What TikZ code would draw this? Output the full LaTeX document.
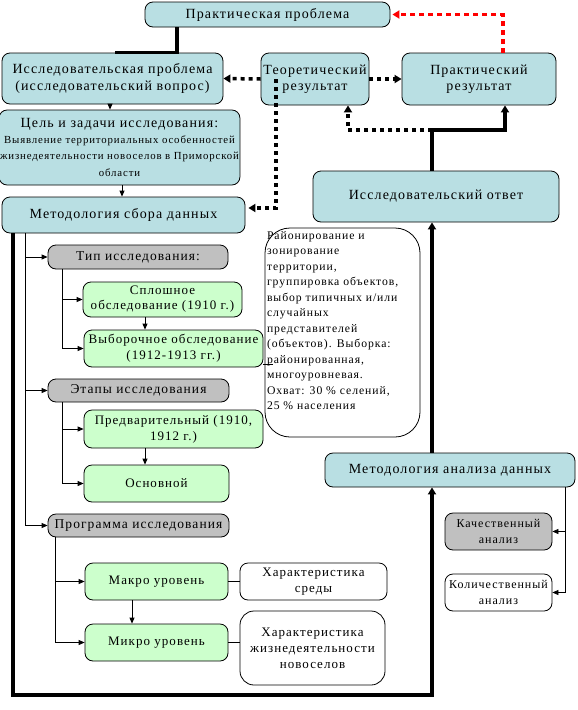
\documentclass[tikz,border=0pt]{standalone}
\usepackage{fontspec}
\setmainfont{Liberation Serif}[LetterSpace=8]
\usetikzlibrary{arrows.meta,calc}
\definecolor{bl}{HTML}{B9DFE3}
\definecolor{gr}{HTML}{CCFFCC}
\definecolor{gy}{HTML}{C0C0C0}
\definecolor{rd}{HTML}{FF0000}
\begin{document}
\begin{tikzpicture}[x=1pt,y=-1pt,
  box/.style={draw, rounded corners=8pt, inner sep=1pt, align=center, line width=0.8pt},
  bluebox/.style={box, fill=bl, font=\fontsize{14}{16.5}\selectfont},
  greenbox/.style={box, fill=gr, font=\fontsize{13}{16}\selectfont},
  greybox/.style={box, fill=gy, font=\fontsize{13.5}{16}\selectfont},
  whitebox/.style={box, fill=white, font=\fontsize{13}{16}\selectfont},
  smallbox/.style={box, font=\fontsize{12}{15.5}\selectfont},
  tip/.style={-{Triangle[length=6pt,width=5pt]}},
  thinline/.style={line width=0.8pt},
  tarr/.style={thinline, tip},
  thk/.style={line width=3.5pt},
  dotline/.style={line width=3.5pt, dash pattern=on 4pt off 4pt},
  reddash/.style={line width=3.5pt, dash pattern=on 5pt off 4pt, draw=rd},
  bigtip/.style={-{Triangle[length=7pt,width=8pt]}}
]
\useasboundingbox (0,0) rectangle (578,710);

% nodes
\node[bluebox, minimum width=245pt, minimum height=25pt] (pp) at (267.5,14.5) {Практическая проблема};
\node[bluebox, minimum width=221pt, minimum height=51pt] (ip) at (112.5,78.5) {Исследовательская проблема\\(исследовательский вопрос)};
\node[bluebox, minimum width=108pt, minimum height=52pt] (tr) at (315,79) {Теоретический\\результат};
\node[bluebox, minimum width=154pt, minimum height=52pt] (pr) at (479,79) {Практический\\результат};
\node[bluebox, minimum width=235pt, minimum height=75pt] (cel) at (119.5,147.5) {Цель и задачи исследования:\\[-1pt]{\fontsize{10.8}{14.5}\selectfont Выявление территориальных особенностей}\\{\fontsize{10.8}{14.5}\selectfont жизнедеятельности новоселов в Приморской}\\{\fontsize{10.8}{14.5}\selectfont области}};
\node[bluebox, minimum width=243pt, minimum height=36pt] (msd) at (123.5,215) {Методология сбора данных};
\node[bluebox, minimum width=246pt, minimum height=51pt] (io) at (436,196.5) {Исследовательский ответ};
\node[draw, fill=white, rounded corners=25pt, line width=0.8pt, inner sep=0pt, minimum width=155pt, minimum height=209pt] (txt) at (342.5,332.5)
  {\begin{minipage}[t][203pt][t]{151pt}\raggedright\fontsize{11.7}{15.5}\selectfont
   Районирование и\\зонирование\\территории,\\группировка объектов,\\выбор типичных и/или\\случайных\\представителей\\(объектов). Выборка:\\районированная,\\многоуровневая.\\Охват: 30 \% селений,\\25 \% населения\end{minipage}};

\node[greybox, minimum width=180pt, minimum height=24pt] (tp) at (138,257) {Тип исследования:};
\node[greenbox, minimum width=159pt, minimum height=35pt, font=\fontsize{13}{15}\selectfont] (spl) at (162.5,299.5) {Сплошное\\обследование (1910 г.)};
\node[greenbox, minimum width=179pt, minimum height=37pt] (vyb) at (173.5,348.5) {Выборочное обследование\\(1912-1913 гг.)};
\node[greybox, minimum width=181pt, minimum height=23pt] (eta) at (138.5,390.5) {Этапы исследования};
\node[greenbox, minimum width=179pt, minimum height=38pt] (pre) at (173.5,429) {Предварительный (1910,\\1912 г.)};
\node[greenbox, minimum width=145pt, minimum height=37pt] (osn) at (156.5,483.5) {Основной};
\node[greybox, minimum width=181pt, minimum height=23pt] (prg) at (138.5,525.5) {Программа исследования};
\node[greenbox, minimum width=143pt, minimum height=37pt] (mak) at (156.5,581.5) {Макро уровень};
\node[whitebox, minimum width=147pt, minimum height=37pt] (sred) at (313.5,581.5) {Характеристика\\среды};
\node[greenbox, minimum width=143pt, minimum height=37pt] (mik) at (156.5,642.5) {Микро уровень};
\node[whitebox, rounded corners=14pt, minimum width=145pt, minimum height=74pt] (zhiz) at (312.5,648) {Характеристика\\жизнедеятельности\\новоселов};
\node[bluebox, minimum width=250pt, minimum height=34pt] (man) at (450,470) {Методология анализа данных};
\node[smallbox, fill=gy, minimum width=107pt, minimum height=37pt] (kach) at (498.5,531.5) {Качественный\\анализ};
\node[smallbox, fill=white, minimum width=107pt, minimum height=37pt] (kol) at (498.5,592.5) {Количественный\\анализ};

% coordinates
\coordinate (j) at (432,130);
\coordinate (lb) at (432,695);

% connectors
\draw[thk] (177,0 |- pp.south) |- (115,0 |- ip.north);
\draw[tarr] (110,0 |- ip.south) -- (110,0 |- cel.north);
\draw[tarr] (122,0 |- cel.south) -- (122,0 |- msd.north);
\draw[dotline, bigtip] (tr.west) -- (ip.east);
\draw[dotline, bigtip] (276,0 |- tr.west) -- (276,208) -- ($(msd.east)+(3,-7)$);
\draw[dotline, bigtip] (tr.east) -- (pr.west);
\draw[thk, bigtip] (432,0 |- io.north) -- (j) -| (505,0 |- pr.south);
\draw[dotline, bigtip] (j) -| (348,0 |- tr.south);
\draw[reddash, bigtip] (503,0 |- pr.north) |- ($(pp.east)+(2,0)$);
\draw[thk, bigtip] (13,0 |- msd.south) |- (lb) -- (432,0 |- man.south);
\draw[thk, bigtip] (432,0 |- man.north) -- (432,0 |- io.south);

\draw[tarr] (25,0 |- msd.south) |- (prg.west);
\draw[tarr] (25,0 |- tp.west) -- (tp.west);
\draw[tarr] (25,0 |- eta.west) -- (eta.west);

\draw[tarr] (62,0 |- tp.south) |- (vyb.west);
\draw[tarr] (62,0 |- spl.west) -- (spl.west);
\draw[tarr] (145,0 |- spl.south) -- (145,0 |- vyb.north);

\draw[tarr] (62,0 |- eta.south) |- (osn.west);
\draw[tarr] (62,0 |- pre.west) -- (pre.west);
\draw[tarr] (145,0 |- pre.south) -- (145,0 |- osn.north);

\draw[tarr] (55,0 |- prg.south) |- (mik.west);
\draw[tarr] (55,0 |- mak.west) -- (mak.west);
\draw[tarr] (132,0 |- mak.south) -- (132,0 |- mik.north);

\draw[thinline] (mak.east) -- (sred.west);
\draw[thinline] (mik.east) -- (zhiz.west |- mik.east);
\draw[thinline] (vyb.east |- 0,364) -- ($(txt.west |- 0,364)+(8,0)$);

\draw[tarr] (565,0 |- man.south) |- (kol.east);
\draw[tarr] (565,0 |- kach.east) -- (kach.east);
\end{tikzpicture}
\end{document}
